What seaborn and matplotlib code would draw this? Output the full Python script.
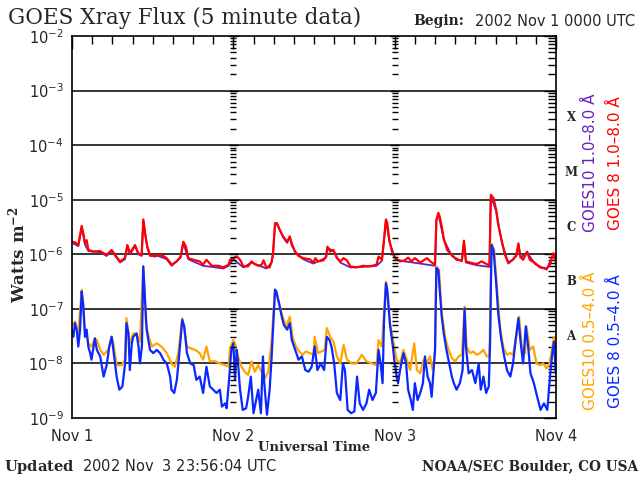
import numpy as np
import pandas as pd
import seaborn as sns
import matplotlib.pyplot as plt
from matplotlib.ticker import FixedLocator, MultipleLocator, NullFormatter
import matplotlib.transforms as mtransforms

# hours since 2002 Nov 1 0000 UTC, values are log10(flux in W m^-2)
g8_long_hr = [0, 0.45, 0.94, 1.44, 1.68, 1.93, 2.18, 2.43, 3.17, 4.16, 5.15, 5.9, 6.4, 7.14, 7.88,
              8.23, 8.63, 9.37, 9.87, 10.36, 10.61, 10.86, 11.2, 11.6, 12.35, 12.84, 13.59, 14.08,
              14.83, 15.57, 16.17, 16.56, 16.96, 17.3, 18.05, 19.0, 19.5, 20.0, 20.8, 21.8, 22.5,
              23.3, 23.5, 24.0, 24.5, 25.0, 25.5, 26.2, 26.7, 27.2, 27.7, 28.2, 28.5, 28.9, 29.4,
              29.7, 29.9, 30.2, 30.5, 30.9, 31.4, 32.0, 32.4, 32.7, 33.2, 33.7, 34.4, 35.4, 35.9,
              36.2, 36.6, 37.4, 37.8, 38.0, 38.4, 38.9, 39.4, 39.9, 40.4, 40.9, 41.4, 42.3, 43.3,
              44.3, 45.3, 45.6, 46.1, 46.4, 46.7, 46.9, 47.2, 47.6, 48.1, 48.8, 49.5, 50.0, 50.5,
              51.0, 51.8, 52.8, 53.3, 54.0, 54.2, 54.5, 54.7, 55.0, 55.3, 55.8, 56.5, 57.2, 58.0,
              58.3, 58.6, 59.2, 60.2, 60.9, 61.7, 62.1, 62.3, 62.7, 63.1, 63.4, 63.9, 64.4, 64.9,
              65.6, 66.1, 66.4, 66.7, 67.1, 67.7, 68.1, 68.9, 69.6, 70.6, 71.1, 71.6, 72.0]
g8_long_val = [-5.77, -5.78, -5.83, -5.48, -5.61, -5.80, -5.74, -5.92, -5.95, -5.94, -6.01, -5.92, -6.01,
               -6.13, -6.07, -5.83, -5.98, -5.83, -5.98, -6.01, -5.36, -5.61, -5.86, -6.01, -6.04, -6.01,
               -6.03, -6.07, -6.19, -6.13, -6.04, -5.77, -5.86, -6.07, -6.10, -6.13, -6.19, -6.10, -6.21,
               -6.21, -6.24, -6.19, -6.10, -6.07, -6.04, -6.10, -6.22, -6.22, -6.13, -6.18, -6.21, -6.19,
               -6.11, -6.24, -6.24, -6.13, -5.98, -5.43, -5.43, -5.55, -5.67, -5.77, -5.67, -5.83, -5.95,
               -6.03, -6.07, -6.09, -6.15, -6.07, -6.13, -6.11, -6.04, -5.86, -5.95, -5.92, -6.07, -6.13,
               -6.07, -6.11, -6.22, -6.24, -6.21, -6.22, -6.19, -6.04, -6.10, -5.74, -5.36, -5.43, -5.74,
               -5.95, -6.07, -6.13, -6.11, -6.06, -6.13, -6.07, -6.15, -6.07, -6.13, -6.19, -5.37, -5.24,
               -5.31, -5.49, -5.71, -5.92, -6.01, -6.10, -6.11, -5.75, -6.13, -6.15, -6.18, -6.13, -6.18,
               -6.21, -4.91, -4.97, -5.19, -5.46, -5.74, -6.01, -6.15, -6.10, -6.01, -5.80, -6.04, -6.10,
               -5.95, -6.10, -6.16, -6.24, -6.26, -6.19, -5.98, -6.13]

g10_long_hr = [0, 0.94, 1.44, 1.93, 2.43, 4.16, 5.15, 5.9, 7.14, 7.88, 8.23, 8.63, 9.37, 9.87, 10.36,
               10.61, 11.2, 11.6, 12.84, 14.08, 14.83, 16.17, 16.56, 17.3, 19.5, 20.8, 22.5, 23.3,
               24.0, 25.5, 26.7, 28.9, 29.7, 29.9, 30.2, 30.5, 31.4, 32.0, 32.4, 33.2, 34.4, 35.9,
               37.8, 38.0, 38.9, 39.9, 41.4, 43.3, 45.3, 46.1, 46.4, 46.7, 47.2, 48.1, 49.5, 51.8,
               54.0, 54.2, 54.5, 55.3, 56.5, 58.0, 58.3, 58.6, 60.2, 62.1, 62.3, 63.1, 63.9, 64.9,
               66.1, 66.4, 66.7, 67.7, 68.9, 70.6, 71.6, 72.0]
g10_long_val = [-5.79, -5.85, -5.50, -5.82, -5.94, -5.96, -6.03, -5.94, -6.15, -6.09, -5.85, -6.00,
                -5.85, -6.00, -6.03, -5.38, -5.88, -6.03, -6.03, -6.09, -6.21, -6.06, -5.79, -6.09,
                -6.21, -6.23, -6.26, -6.21, -6.09, -6.24, -6.15, -6.26, -6.15, -6.00, -5.45, -5.45,
                -5.69, -5.79, -5.69, -5.97, -6.09, -6.17, -6.06, -5.88, -5.94, -6.15, -6.24, -6.23,
                -6.21, -6.12, -5.76, -5.38, -5.76, -6.09, -6.13, -6.17, -6.21, -5.39, -5.26, -5.73,
                -6.03, -6.13, -5.77, -6.15, -6.20, -6.23, -4.93, -5.21, -5.76, -6.17, -6.03, -5.82,
                -6.06, -5.97, -6.18, -6.28, -6.00, -6.15]

g8_short_hr = [0.0, 0.2, 0.45, 0.7, 0.94, 1.2, 1.44, 1.68, 1.93, 2.18, 2.43, 2.7, 2.9, 3.4, 3.7, 4.2,
               4.7, 5.15, 5.55, 5.9, 6.15, 6.64, 7.04, 7.5, 7.9, 8.1, 8.4, 8.6, 8.9, 9.1, 9.6, 9.9,
               10.1, 10.4, 10.6, 10.9, 11.1, 11.6, 12.1, 12.6, 13.1, 13.6, 14.1, 14.6, 14.8, 15.2,
               15.6, 16.1, 16.4, 16.7, 17.1, 17.6, 18.1, 18.5, 19.0, 19.5, 20.0, 20.5, 21.0, 21.5,
               22.0, 22.3, 22.8, 23.0, 23.4, 23.7, 24.0, 24.25, 24.5, 24.7, 25.0, 25.4, 25.9, 26.2,
               26.6, 27.0, 27.4, 27.7, 28.1, 28.4, 28.6, 29.0, 29.4, 29.7, 29.95, 30.2, 30.4, 30.8,
               31.2, 31.5, 32.0, 32.4, 32.7, 33.2, 33.7, 34.2, 34.7, 35.2, 35.65, 36.1, 36.5, 37.0,
               37.5, 37.9, 38.3, 38.6, 39.0, 39.4, 39.9, 40.3, 40.6, 41.0, 41.5, 42.0, 42.4, 42.8,
               43.3, 43.8, 44.2, 44.7, 45.2, 45.6, 45.9, 46.2, 46.4, 46.7, 46.9, 47.3, 47.7, 48.0,
               48.3, 48.5, 48.8, 49.3, 49.7, 50.0, 50.4, 50.7, 51.0, 51.4, 51.8, 52.2, 52.5, 52.9,
               53.25, 53.5, 53.75, 54.0, 54.2, 54.5, 54.7, 55.0, 55.3, 55.7, 56.1, 56.5, 56.8, 57.2,
               57.7, 58.1, 58.4, 58.6, 59.0, 59.5, 60.0, 60.5, 60.8, 61.2, 61.6, 62.0, 62.2, 62.4,
               62.7, 63.1, 63.4, 63.8, 64.2, 64.7, 65.2, 65.6, 66.05, 66.4, 66.7, 67.1, 67.5, 67.9,
               68.2, 68.7, 69.2, 69.7, 70.2, 70.7, 71.1, 71.5, 71.7, 71.95]
g8_short_val = [-7.38, -7.51, -7.26, -7.38, -7.69, -7.38, -6.68, -6.93, -7.51, -7.38, -7.69, -7.81,
                -7.93, -7.54, -7.75, -7.87, -8.24, -8.03, -7.69, -7.51, -7.75, -8.24, -8.48, -8.42,
                -8.00, -7.26, -7.45, -8.12, -7.63, -7.51, -7.45, -7.69, -8.00, -7.69, -6.22, -6.93,
                -7.38, -7.75, -7.81, -7.75, -7.81, -7.93, -8.00, -8.24, -8.48, -8.54, -8.30, -7.63,
                -7.20, -7.32, -7.81, -8.00, -8.03, -8.30, -8.24, -8.54, -8.06, -8.42, -8.48, -8.54,
                -8.48, -8.79, -8.73, -8.82, -8.24, -7.75, -7.63, -8.30, -7.75, -8.00, -8.48, -8.85,
                -8.82, -8.61, -8.24, -8.91, -8.67, -8.48, -8.91, -7.87, -8.36, -8.94, -8.48, -7.87,
                -7.26, -6.65, -6.68, -6.90, -7.14, -7.29, -7.38, -7.26, -7.57, -7.75, -7.93, -7.87,
                -8.12, -8.15, -8.06, -7.69, -8.12, -8.00, -8.12, -7.51, -7.57, -7.69, -8.00, -8.54,
                -8.67, -8.00, -8.12, -8.85, -8.91, -8.88, -8.24, -8.73, -8.85, -8.73, -8.48, -8.67,
                -8.54, -7.75, -8.00, -8.36, -7.26, -6.53, -6.65, -7.29, -7.66, -8.00, -8.24, -8.36,
                -8.12, -7.81, -8.00, -8.48, -8.67, -8.85, -8.36, -8.67, -8.54, -8.36, -7.87, -8.24,
                -8.36, -8.61, -8.18, -7.75, -6.25, -6.29, -6.65, -7.14, -7.45, -7.75, -8.00, -8.24,
                -8.36, -8.48, -8.36, -8.12, -6.99, -7.69, -8.18, -8.12, -8.36, -8.00, -8.48, -8.24,
                -8.54, -8.42, -7.57, -5.83, -5.92, -6.53, -7.08, -7.51, -7.81, -8.12, -8.24, -8.00,
                -7.51, -7.17, -7.57, -8.00, -7.32, -7.75, -8.18, -8.36, -8.61, -8.85, -8.73, -8.85,
                -8.24, -7.75, -7.60, -8.18]

g10_short_hr = [0.0, 0.45, 0.94, 1.44, 1.93, 2.43, 2.9, 3.4, 3.7, 4.2, 4.7, 5.4, 5.9, 6.15, 6.64, 7.4,
                7.9, 8.1, 8.6, 9.1, 9.6, 10.1, 10.6, 11.0, 11.4, 11.9, 12.6, 13.3, 14.1, 14.8, 15.3,
                15.8, 16.4, 17.1, 17.6, 18.3, 19.0, 19.5, 20.0, 20.5, 21.3, 22.0, 22.8, 23.3, 23.5,
                24.0, 24.25, 24.7, 25.2, 25.7, 26.2, 26.7, 27.2, 27.7, 28.2, 28.7, 29.2, 29.7, 30.2,
                30.8, 31.3, 31.9, 32.4, 32.8, 33.3, 33.8, 34.3, 34.8, 35.4, 35.9, 36.1, 36.6, 37.1,
                37.6, 37.9, 38.4, 38.9, 39.4, 39.9, 40.4, 40.9, 41.6, 42.3, 43.1, 43.8, 44.6, 45.3,
                45.6, 46.1, 46.7, 47.3, 47.8, 48.3, 48.8, 49.3, 49.8, 50.3, 50.9, 51.3, 51.8, 52.3,
                52.75, 53.25, 53.65, 54.0, 54.2, 54.6, 55.0, 55.5, 56.0, 56.5, 57.0, 57.5, 58.0, 58.4,
                58.7, 59.2, 59.7, 60.2, 60.7, 61.2, 61.7, 62.1, 62.4, 62.8, 63.2, 63.7, 64.2, 64.7,
                65.2, 65.6, 66.1, 66.5, 66.9, 67.4, 67.6, 68.1, 68.6, 69.1, 69.6, 70.1, 70.6, 71.0,
                71.4, 71.7, 72.0]
g10_short_val = [-7.32, -7.23, -7.45, -6.65, -7.38, -7.63, -7.69, -7.54, -7.57, -7.75, -7.84, -7.75,
                 -7.51, -7.63, -8.03, -8.03, -7.93, -7.17, -7.63, -7.45, -7.45, -7.60, -6.22, -7.26,
                 -7.51, -7.69, -7.63, -7.69, -7.81, -8.00, -8.06, -7.81, -7.17, -7.69, -7.72, -7.75,
                 -7.81, -7.93, -7.69, -7.96, -7.96, -8.00, -8.03, -8.06, -7.72, -7.57, -7.63, -7.87,
                 -8.06, -8.15, -8.21, -7.96, -8.15, -8.03, -8.15, -8.27, -8.15, -7.57, -6.64, -6.90,
                 -7.14, -7.32, -7.14, -7.51, -7.69, -7.78, -7.84, -7.78, -7.81, -7.84, -7.51, -7.81,
                 -7.78, -7.75, -7.35, -7.51, -7.60, -7.87, -8.00, -7.66, -7.93, -8.00, -8.00, -7.84,
                 -7.96, -8.00, -8.03, -7.57, -7.69, -6.50, -7.26, -7.60, -7.93, -8.00, -7.75, -7.93,
                 -8.12, -7.63, -8.12, -8.18, -7.93, -8.00, -7.87, -8.12, -7.81, -6.22, -6.29, -7.08,
                 -7.51, -7.75, -7.90, -7.96, -7.87, -7.84, -6.96, -7.69, -7.81, -7.78, -7.84, -7.81,
                 -7.75, -7.87, -7.87, -5.80, -5.92, -6.59, -7.38, -7.72, -7.84, -7.81, -7.84, -7.48,
                 -7.14, -7.69, -7.81, -7.32, -7.75, -7.69, -8.00, -8.03, -8.00, -8.09, -8.00, -7.75,
                 -7.51, -7.69]

day_ticks = [0, 24, 48, 72]
day_labels = ['Nov 1', 'Nov 2', 'Nov 3', 'Nov 4']
decades = [-9, -8, -7, -6, -5, -4, -3, -2]
flare_classes = ['A', 'B', 'C', 'M', 'X']
class_levels = [-7.5, -6.5, -5.5, -4.5, -3.5]


def frame(hr, val, name):
    return pd.DataFrame({'hour': hr, 'flux': 10.0 ** np.array(val), 'series': name})


sns.set_style('white')
plt.rcParams['font.family'] = ['DejaVu Sans']
plt.rcParams['mathtext.fontset'] = 'custom'
plt.rcParams['mathtext.rm'] = 'DejaVu Sans'
plt.rcParams['mathtext.bf'] = 'DejaVu Serif:bold'
plt.rcParams['mathtext.default'] = 'regular'

fig = plt.figure(figsize=(6.4, 4.8), dpi=100)
ax = fig.add_axes([0.1125, 0.129, 0.7563, 0.796])

series = [
    (g10_long_hr, g10_long_val, 'GOES10 long', '#6a1fc4', 1.3),
    (g8_long_hr, g8_long_val, 'GOES 8 long', '#ff0000', 1.6),
    (g10_short_hr, g10_short_val, 'GOES10 short', '#ffa500', 1.6),
    (g8_short_hr, g8_short_val, 'GOES 8 short', '#0a28ff', 1.6),
]
for hr, val, name, col, lw in series:
    sns.lineplot(data=frame(hr, val, name), x='hour', y='flux', ax=ax, color=col,
                 lw=lw, estimator=None, sort=False)

ax.set_yscale('log')
ax.set_ylim(1e-9, 1e-2)
ax.set_xlim(0, 72)
ax.set_xlabel('')
ax.set_ylabel('')

ax.xaxis.set_major_locator(FixedLocator(day_ticks))
ax.set_xticklabels(day_labels)
ax.xaxis.set_minor_locator(MultipleLocator(3))

major_y = [10.0 ** d for d in decades]
minor_y = [k * 10.0 ** d for d in decades[:-1] for k in range(2, 10)]
ax.yaxis.set_major_locator(FixedLocator(major_y))
ax.set_yticklabels(['$10^{%d}$' % d for d in decades])
ax.yaxis.set_minor_locator(FixedLocator(minor_y))
ax.yaxis.set_minor_formatter(NullFormatter())
ax.tick_params(which='both', direction='in', top=True, right=True, color='black', width=1)
ax.tick_params(which='major', length=9, labelsize=10.5, pad=6)
ax.tick_params(which='minor', length=6)
ax.tick_params(axis='x', which='major', labelsize=10.5, pad=8)

for s in ax.spines.values():
    s.set_color('black')
    s.set_linewidth(1.2)

# decade grid lines
for d in decades[1:-1]:
    ax.axhline(10.0 ** d, color='black', lw=1.1, zorder=1)

# minor tick columns on the day boundaries
for day in day_ticks[1:3]:
    ax.hlines(minor_y, day - 0.45, day + 0.45, color='black', lw=1, zorder=3)
    ax.hlines(major_y, day - 0.7, day + 0.7, color='black', lw=1, zorder=3)

trans = mtransforms.blended_transform_factory(ax.transAxes, ax.transData)
for letter, lev in zip(flare_classes, class_levels):
    ax.text(1.031, 10.0 ** lev, letter, transform=trans, ha='center', va='center',
            family='DejaVu Serif', fontweight='bold', fontsize=8.5)

fig.text(0.012, 0.962, 'GOES Xray Flux (5 minute data)', family='DejaVu Serif', fontsize=15.5,
         va='center', ha='left')
fig.text(0.645, 0.956, 'Begin:', family='DejaVu Serif', fontweight='bold', fontsize=10, va='center')
fig.text(0.742, 0.956, '2002 Nov 1 0000 UTC', fontsize=10.5, va='center')
fig.text(0.028, 0.469, 'Watts m$^{-2}$', family='DejaVu Serif', fontweight='bold', fontsize=12,
         rotation=90, ha='center', va='center')
fig.text(0.49, 0.067, 'Universal Time', family='DejaVu Serif', fontweight='bold', fontsize=9.5,
         ha='center', va='center')
fig.text(0.006, 0.028, r'$\mathbf{Updated}$  2002 Nov  3 23:56:04 UTC', fontsize=10.5, va='center')
fig.text(0.997, 0.028, 'NOAA/SEC Boulder, CO USA', family='DejaVu Serif', fontweight='bold',
         fontsize=9.8, ha='right', va='center')

fig.text(0.922, 0.66, 'GOES10 1.0\u20138.0 \u00c5', color='#6a1fc4', fontsize=11, rotation=90,
         ha='center', va='center')
fig.text(0.961, 0.66, 'GOES 8 1.0\u20138.0 \u00c5', color='#ff0000', fontsize=11, rotation=90,
         ha='center', va='center')
fig.text(0.922, 0.29, 'GOES10 0.5\u20134.0 \u00c5', color='#ffa500', fontsize=11, rotation=90,
         ha='center', va='center')
fig.text(0.961, 0.29, 'GOES 8 0.5\u20134.0 \u00c5', color='#0a28ff', fontsize=11, rotation=90,
         ha='center', va='center')

fig.savefig('out.png', dpi=100, facecolor='white')
